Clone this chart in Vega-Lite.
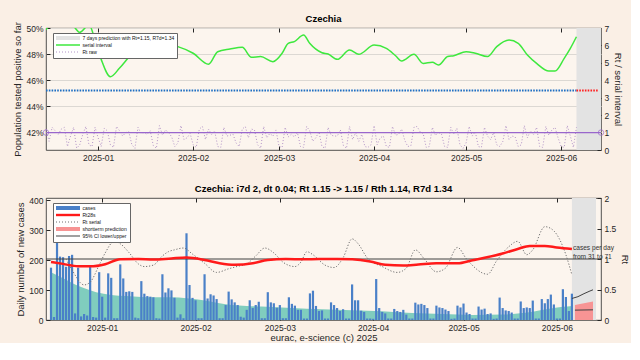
{
  "$schema": "https://vega.github.io/schema/vega-lite/v6.json",
  "autosize": {"type": "pad"},
  "padding": {"left": 12, "top": 13, "right": 0, "bottom": 0},
  "background": "#faefe5",
  "spacing": 48,
  "bounds": "flush",
  "config": {
    "font": "Liberation Sans",
    "view": {"fill": "#fcf5ee", "stroke": "#262626", "strokeWidth": 0.8},
    "axis": {
      "labelFont": "Liberation Sans", "labelFontSize": 8.5, "labelColor": "#262626", "labelOverlap": false,
      "titleFont": "Liberation Sans", "titleFontSize": 9.5, "titleFontWeight": "normal", "titleColor": "#262626",
      "domain": false, "tickColor": "#262626", "tickSize": -4, "labelPadding": 7, "grid": false
    },
    "title": {"font": "Liberation Sans", "fontSize": 9.5, "fontWeight": "bold", "color": "#000000"},
    "legend": {
      "fillColor": "#ffffff", "strokeColor": "#666666", "padding": 2.5,
      "labelFont": "Liberation Sans", "labelFontSize": 5, "labelColor": "#111111",
      "symbolType": "M-2,0H22", "symbolSize": 4, "symbolStrokeWidth": 1, "symbolOpacity": 1,
      "labelOffset": 22, "rowPadding": 1, "labelLimit": 300
    }
  },
  "datasets": {
    "daily": [
      {"date":"2024-12-15","cases":175,"rt":1.2},{"date":"2024-12-16","cases":10,"rt":0.5},{"date":"2024-12-17","cases":374,"rt":1.3},{"date":"2024-12-18","cases":212,"rt":1.1},{"date":"2024-12-19","cases":210,"rt":0.9},{"date":"2024-12-20","cases":178,"rt":1.2},{"date":"2024-12-21","cases":214,"rt":1.3},{"date":"2024-12-22","cases":218,"rt":0.2},{"date":"2024-12-23","cases":22,"rt":0.8},{"date":"2024-12-24","cases":175,"rt":1.3},{"date":"2024-12-25","cases":12,"rt":0.1},{"date":"2024-12-26","cases":20,"rt":0.3},{"date":"2024-12-27","cases":15,"rt":0.9},{"date":"2024-12-28","cases":184,"rt":1.35},{"date":"2024-12-29","cases":10,"rt":0.3},{"date":"2024-12-30","cases":8,"rt":0.2},{"date":"2024-12-31","cases":160,"rt":1.3},
      {"date":"2025-01-01","cases":78,"rt":0.7},{"date":"2025-01-02","cases":8,"rt":0.2},{"date":"2025-01-03","cases":156,"rt":1.25},{"date":"2025-01-04","cases":141,"rt":1.1},{"date":"2025-01-05","cases":6,"rt":0.3},{"date":"2025-01-06","cases":6,"rt":0.15},{"date":"2025-01-07","cases":186,"rt":1.35},{"date":"2025-01-08","cases":139,"rt":1.1},{"date":"2025-01-09","cases":94,"rt":0.8},{"date":"2025-01-10","cases":96,"rt":1.0},{"date":"2025-01-11","cases":94,"rt":1.05},{"date":"2025-01-12","cases":8,"rt":0.3},{"date":"2025-01-13","cases":6,"rt":0.1},{"date":"2025-01-14","cases":130,"rt":1.3},{"date":"2025-01-15","cases":88,"rt":0.95},{"date":"2025-01-16","cases":80,"rt":1.0},{"date":"2025-01-17","cases":78,"rt":0.9},{"date":"2025-01-18","cases":76,"rt":1.1},{"date":"2025-01-19","cases":6,"rt":0.25},{"date":"2025-01-20","cases":5,"rt":0.1},{"date":"2025-01-21","cases":153,"rt":1.4},{"date":"2025-01-22","cases":92,"rt":0.85},{"date":"2025-01-23","cases":106,"rt":1.15},{"date":"2025-01-24","cases":99,"rt":1.0},{"date":"2025-01-25","cases":74,"rt":0.75},{"date":"2025-01-26","cases":8,"rt":0.2},{"date":"2025-01-27","cases":19,"rt":0.4},{"date":"2025-01-28","cases":6,"rt":1.4},{"date":"2025-01-29","cases":290,"rt":0.6},{"date":"2025-01-30","cases":117,"rt":0.7},{"date":"2025-01-31","cases":74,"rt":0.95},
      {"date":"2025-02-01","cases":66,"rt":0.3},{"date":"2025-02-02","cases":6,"rt":0.15},{"date":"2025-02-03","cases":6,"rt":1.2},{"date":"2025-02-04","cases":153,"rt":1.35},{"date":"2025-02-05","cases":72,"rt":0.6},{"date":"2025-02-06","cases":86,"rt":1.2},{"date":"2025-02-07","cases":82,"rt":0.9},{"date":"2025-02-08","cases":70,"rt":1.1},{"date":"2025-02-09","cases":6,"rt":0.2},{"date":"2025-02-10","cases":6,"rt":0.15},{"date":"2025-02-11","cases":50,"rt":1.3},{"date":"2025-02-12","cases":95,"rt":0.8},{"date":"2025-02-13","cases":69,"rt":0.85},{"date":"2025-02-14","cases":59,"rt":0.9},{"date":"2025-02-15","cases":50,"rt":0.4},{"date":"2025-02-16","cases":11,"rt":0.2},{"date":"2025-02-17","cases":8,"rt":1.2},{"date":"2025-02-18","cases":34,"rt":1.35},{"date":"2025-02-19","cases":66,"rt":0.7},{"date":"2025-02-20","cases":40,"rt":1.2},{"date":"2025-02-21","cases":50,"rt":1.15},{"date":"2025-02-22","cases":61,"rt":0.3},{"date":"2025-02-23","cases":6,"rt":0.1},{"date":"2025-02-24","cases":6,"rt":1.35},{"date":"2025-02-25","cases":93,"rt":0.7},{"date":"2025-02-26","cases":59,"rt":0.95},{"date":"2025-02-27","cases":56,"rt":0.8},{"date":"2025-02-28","cases":41,"rt":1.15},
      {"date":"2025-03-01","cases":50,"rt":0.2},{"date":"2025-03-02","cases":6,"rt":0.15},{"date":"2025-03-03","cases":6,"rt":1.3},{"date":"2025-03-04","cases":76,"rt":0.75},{"date":"2025-03-05","cases":54,"rt":0.9},{"date":"2025-03-06","cases":48,"rt":0.75},{"date":"2025-03-07","cases":34,"rt":1.0},{"date":"2025-03-08","cases":34,"rt":0.2},{"date":"2025-03-09","cases":5,"rt":0.15},{"date":"2025-03-10","cases":5,"rt":1.35},{"date":"2025-03-11","cases":89,"rt":1.1},{"date":"2025-03-12","cases":98,"rt":0.5},{"date":"2025-03-13","cases":47,"rt":0.7},{"date":"2025-03-14","cases":30,"rt":1.05},{"date":"2025-03-15","cases":32,"rt":0.2},{"date":"2025-03-16","cases":5,"rt":0.1},{"date":"2025-03-17","cases":5,"rt":1.3},{"date":"2025-03-18","cases":59,"rt":0.85},{"date":"2025-03-19","cases":50,"rt":0.8},{"date":"2025-03-20","cases":40,"rt":0.8},{"date":"2025-03-21","cases":30,"rt":1.15},{"date":"2025-03-22","cases":36,"rt":0.25},{"date":"2025-03-23","cases":5,"rt":0.1},{"date":"2025-03-24","cases":5,"rt":1.35},{"date":"2025-03-25","cases":119,"rt":0.6},{"date":"2025-03-26","cases":66,"rt":1.0},{"date":"2025-03-27","cases":66,"rt":0.5},{"date":"2025-03-28","cases":31,"rt":0.9},{"date":"2025-03-29","cases":27,"rt":0.2},{"date":"2025-03-30","cases":5,"rt":0.15},{"date":"2025-03-31","cases":5,"rt":0.3},
      {"date":"2025-04-01","cases":4,"rt":1.4},{"date":"2025-04-02","cases":137,"rt":0.3},{"date":"2025-04-03","cases":40,"rt":0.7},{"date":"2025-04-04","cases":27,"rt":0.8},{"date":"2025-04-05","cases":22,"rt":0.2},{"date":"2025-04-06","cases":5,"rt":0.15},{"date":"2025-04-07","cases":5,"rt":1.35},{"date":"2025-04-08","cases":37,"rt":0.85},{"date":"2025-04-09","cases":30,"rt":0.9},{"date":"2025-04-10","cases":27,"rt":1.2},{"date":"2025-04-11","cases":34,"rt":0.55},{"date":"2025-04-12","cases":18,"rt":0.2},{"date":"2025-04-13","cases":5,"rt":0.25},{"date":"2025-04-14","cases":5,"rt":1.3},{"date":"2025-04-15","cases":58,"rt":1.35},{"date":"2025-04-16","cases":52,"rt":1.05},{"date":"2025-04-17","cases":54,"rt":0.95},{"date":"2025-04-18","cases":50,"rt":0.15},{"date":"2025-04-19","cases":40,"rt":0.2},{"date":"2025-04-20","cases":5,"rt":1.3},{"date":"2025-04-21","cases":5,"rt":0.85},{"date":"2025-04-22","cases":48,"rt":1.0},{"date":"2025-04-23","cases":42,"rt":0.9},{"date":"2025-04-24","cases":40,"rt":0.2},{"date":"2025-04-25","cases":35,"rt":0.15},{"date":"2025-04-26","cases":30,"rt":1.3},{"date":"2025-04-27","cases":4,"rt":0.9},{"date":"2025-04-28","cases":5,"rt":1.25},{"date":"2025-04-29","cases":48,"rt":0.3},{"date":"2025-04-30","cases":42,"rt":0.1},
      {"date":"2025-05-01","cases":55,"rt":0.4},{"date":"2025-05-02","cases":25,"rt":1.35},{"date":"2025-05-03","cases":20,"rt":0.8},{"date":"2025-05-04","cases":5,"rt":1.05},{"date":"2025-05-05","cases":5,"rt":0.2},{"date":"2025-05-06","cases":45,"rt":0.15},{"date":"2025-05-07","cases":35,"rt":1.3},{"date":"2025-05-08","cases":38,"rt":0.8},{"date":"2025-05-09","cases":20,"rt":0.6},{"date":"2025-05-10","cases":22,"rt":1.0},{"date":"2025-05-11","cases":4,"rt":0.3},{"date":"2025-05-12","cases":5,"rt":0.2},{"date":"2025-05-13","cases":75,"rt":0.5},{"date":"2025-05-14","cases":40,"rt":1.4},{"date":"2025-05-15","cases":32,"rt":0.6},{"date":"2025-05-16","cases":30,"rt":0.8},{"date":"2025-05-17","cases":25,"rt":0.75},{"date":"2025-05-18","cases":5,"rt":0.2},{"date":"2025-05-19","cases":5,"rt":0.3},{"date":"2025-05-20","cases":62,"rt":1.4},{"date":"2025-05-21","cases":40,"rt":0.7},{"date":"2025-05-22","cases":42,"rt":1.1},{"date":"2025-05-23","cases":40,"rt":0.9},{"date":"2025-05-24","cases":65,"rt":1.3},{"date":"2025-05-25","cases":5,"rt":0.2},{"date":"2025-05-26","cases":5,"rt":0.15},{"date":"2025-05-27","cases":70,"rt":1.35},{"date":"2025-05-28","cases":56,"rt":0.85},{"date":"2025-05-29","cases":70,"rt":1.15},{"date":"2025-05-30","cases":85,"rt":1.3},{"date":"2025-05-31","cases":52,"rt":0.7},
      {"date":"2025-06-01","cases":5,"rt":0.2},{"date":"2025-06-02","cases":5,"rt":0.15},{"date":"2025-06-03","cases":103,"rt":1.4},{"date":"2025-06-04","cases":77,"rt":0.8},{"date":"2025-06-05","cases":30,"rt":0.15},{"date":"2025-06-06","cases":88,"rt":1.3}
    ]
  },
  "resolve": {"scale": {"color": "independent"}},
  "vconcat": [
    {
      "title": {"text": "Czechia", "offset": -2},
      "width": 555, "height": 122,
      "resolve": {"scale": {"y": "independent"}, "axis": {"x": "independent"}},
      "layer": [
        {
          "layer": [
            {
              "data": {"values": [{"start": "2025-06-06", "end": "2025-06-14", "series": "7 days prediction with Rt=1.15, R7d=1.34"}]},
              "mark": {"type": "rect"},
              "encoding": {
                "x": {"field": "start", "type": "temporal",
                  "scale": {"type": "utc", "domain": [{"year": 2024, "month": 12, "date": 15, "utc": true}, {"year": 2025, "month": 6, "date": 14, "utc": true}]},
                  "axis": {"orient": "bottom", "title": null, "labelExpr": "utcFormat(datum.value, '%Y-%m')", "tickCount": 30,
                    "values": [{"year": 2025, "month": 1, "date": 1, "utc": true}, {"year": 2025, "month": 2, "date": 1, "utc": true}, {"year": 2025, "month": 3, "date": 1, "utc": true}, {"year": 2025, "month": 4, "date": 1, "utc": true}, {"year": 2025, "month": 5, "date": 1, "utc": true}, {"year": 2025, "month": 6, "date": 1, "utc": true}]}},
                "x2": {"field": "end"},
                "color": {"field": "series", "type": "nominal",
                  "scale": {"domain": ["7 days prediction with Rt=1.15, R7d=1.34", "serial interval", "Rt raw"], "range": ["#e3e3e3", "#3ee83e", "#b394c8"]},
                  "legend": {"title": null, "orient": "none", "legendX": 7, "legendY": 5,
                    "encode": {"symbols": {"update": {
                      "shape": {"signal": "datum.value == 'Rt raw' ? 'M-2,0H22' : datum.value == 'serial interval' ? 'M-2,-0.75H22V0.75H-2Z' : 'M-2,-2H22V2H-2Z'"},
                      "fill": {"signal": "datum.value == 'Rt raw' ? 'transparent' : datum.value == 'serial interval' ? '#3ee83e' : '#e3e3e3'"},
                      "stroke": {"signal": "datum.value == 'Rt raw' ? '#a98bbf' : 'transparent'"},
                      "strokeWidth": {"signal": "datum.value == 'Rt raw' ? 1 : 0"},
                      "strokeDash": {"signal": "datum.value == 'Rt raw' ? [1, 2] : [1, 0]"},
                      "strokeJoin": {"value": "bevel"},
                      "opacity": {"value": 1}, "fillOpacity": {"value": 1}, "strokeOpacity": {"value": 1}
                    }}}}}
              }
            },
            {
              "data": {"values": [{"date": "2024-12-15", "pct": 45.2}, {"date": "2025-06-06", "pct": 45.2}]},
              "mark": {"type": "line", "color": "#1f6fc2", "strokeWidth": 2, "strokeDash": [1.6, 1.2]},
              "encoding": {
                "x": {"field": "date", "type": "temporal"},
                "y": {"field": "pct", "type": "quantitative", "scale": {"domain": [40.62, 50], "nice": false, "zero": false},
                  "axis": {"orient": "left", "values": [42, 44, 46, 48, 50], "tickCount": 20, "labelExpr": "datum.value + '%'", "grid": true, "gridColor": "#dcd8d3", "title": "Population tested positive so far", "titlePadding": 3}}
              }
            },
            {
              "data": {"values": [{"date": "2025-06-06", "pct": 45.2}, {"date": "2025-06-13", "pct": 45.2}]},
              "mark": {"type": "line", "color": "#ff2020", "strokeWidth": 2, "strokeDash": [1.6, 1.2]},
              "encoding": {
                "x": {"field": "date", "type": "temporal"},
                "y": {"field": "pct", "type": "quantitative"}
              }
            }
          ]
        },
        {
          "layer": [
            {
              "data": {"name": "daily"},
              "mark": {"type": "line", "strokeWidth": 1, "strokeDash": [1, 2]},
              "encoding": {
                "x": {"field": "date", "type": "temporal",
                  "axis": {"orient": "top", "title": null, "labels": false, "tickCount": 30,
                    "values": [{"year": 2025, "month": 1, "date": 1, "utc": true}, {"year": 2025, "month": 2, "date": 1, "utc": true}, {"year": 2025, "month": 3, "date": 1, "utc": true}, {"year": 2025, "month": 4, "date": 1, "utc": true}, {"year": 2025, "month": 5, "date": 1, "utc": true}, {"year": 2025, "month": 6, "date": 1, "utc": true}]}},
                "y": {"field": "rt", "type": "quantitative", "scale": {"domain": [0, 7], "nice": false},
                  "axis": {"orient": "right", "values": [0, 1, 2, 3, 4, 5, 6, 7], "tickCount": 20, "labelExpr": "datum.value", "title": "Rt / serial interval", "titlePadding": 4}},
                "color": {"datum": "Rt raw", "type": "nominal"}
              }
            },
            {
              "data": {"values": [{"v": 1}]},
              "mark": {"type": "rule", "color": "#9966cc", "strokeWidth": 1.2},
              "encoding": {"y": {"field": "v", "type": "quantitative"}}
            },
            {
              "data": {"values": [{"date": "2024-12-15", "v": 1}, {"date": "2025-06-14", "v": 1}]},
              "mark": {"type": "point", "shape": "circle", "filled": false, "color": "#9966cc", "size": 30, "strokeWidth": 1},
              "encoding": {"x": {"field": "date", "type": "temporal"}, "y": {"field": "v", "type": "quantitative"}}
            },
            {
              "data": {"values": [
                {"date":"2024-12-15","si":6.9},{"date":"2024-12-17","si":7.3},{"date":"2024-12-20","si":7.5},{"date":"2024-12-24","si":7.1},{"date":"2024-12-26","si":6.75},{"date":"2024-12-28","si":7.05},{"date":"2024-12-29","si":7.2},{"date":"2024-12-31","si":6.3},{"date":"2025-01-02","si":5.2},{"date":"2025-01-05","si":4.2},{"date":"2025-01-08","si":4.7},{"date":"2025-01-12","si":5.5},{"date":"2025-01-16","si":5.9},{"date":"2025-01-21","si":6.1},{"date":"2025-01-27","si":5.93},
                {"date":"2025-02-01","si":5.55},{"date":"2025-02-06","si":4.92},{"date":"2025-02-09","si":5.64},{"date":"2025-02-13","si":5.79},{"date":"2025-02-17","si":5.89},{"date":"2025-02-20","si":5.32},{"date":"2025-02-23","si":5.36},{"date":"2025-02-27","si":5.07},
                {"date":"2025-03-02","si":5.55},{"date":"2025-03-04","si":6.12},{"date":"2025-03-06","si":6.22},{"date":"2025-03-09","si":6.6},{"date":"2025-03-11","si":6.12},{"date":"2025-03-15","si":5.58},{"date":"2025-03-17","si":5.51},{"date":"2025-03-20","si":5.2},{"date":"2025-03-24","si":5.74},{"date":"2025-03-27","si":5.49},
                {"date":"2025-04-01","si":6.02},{"date":"2025-04-05","si":5.83},{"date":"2025-04-08","si":5.41},{"date":"2025-04-10","si":5.11},{"date":"2025-04-14","si":5.49},{"date":"2025-04-17","si":4.97},{"date":"2025-04-20","si":5.03},{"date":"2025-04-22","si":4.88},{"date":"2025-04-25","si":5.36},{"date":"2025-04-27","si":5.41},
                {"date":"2025-05-01","si":5.64},{"date":"2025-05-04","si":5.55},{"date":"2025-05-08","si":5.36},{"date":"2025-05-11","si":5.93},{"date":"2025-05-15","si":6.31},{"date":"2025-05-18","si":6.12},{"date":"2025-05-21","si":5.45},{"date":"2025-05-24","si":4.97},{"date":"2025-05-28","si":4.53},{"date":"2025-05-30","si":4.53},
                {"date":"2025-06-02","si":5.26},{"date":"2025-06-04","si":5.83},{"date":"2025-06-06","si":6.5}
              ]},
              "mark": {"type": "line", "interpolate": "monotone", "clip": true, "strokeWidth": 1.5},
              "encoding": {
                "x": {"field": "date", "type": "temporal"},
                "y": {"field": "si", "type": "quantitative"},
                "color": {"datum": "serial interval", "type": "nominal"}
              }
            }
          ]
        }
      ]
    },
    {
      "title": {"text": "Czechia: i7d 2, dt 0.04; Rt 1.15 -> 1.15 / Rth 1.14, R7d 1.34", "offset": 1},
      "width": 555, "height": 122,
      "resolve": {"scale": {"y": "independent"}, "axis": {"x": "independent"}},
      "layer": [
        {
          "layer": [
            {
              "data": {"values": [{"start": "2025-06-06", "end": "2025-06-14"}]},
              "mark": {"type": "rect", "color": "#e3e3e3"},
              "encoding": {
                "x": {"field": "start", "type": "temporal",
                  "scale": {"type": "utc", "domain": [{"year": 2024, "month": 12, "date": 15, "utc": true}, {"year": 2025, "month": 6, "date": 14, "utc": true}]},
                  "axis": {"orient": "bottom", "title": "eurac, e-science (c) 2025", "titlePadding": 1, "labelExpr": "utcFormat(datum.value, '%Y-%m')", "tickCount": 30,
                    "values": [{"year": 2025, "month": 1, "date": 1, "utc": true}, {"year": 2025, "month": 2, "date": 1, "utc": true}, {"year": 2025, "month": 3, "date": 1, "utc": true}, {"year": 2025, "month": 4, "date": 1, "utc": true}, {"year": 2025, "month": 5, "date": 1, "utc": true}, {"year": 2025, "month": 6, "date": 1, "utc": true}]}},
                "x2": {"field": "end"}
              }
            },
            {
              "data": {"values": [
                {"date":"2024-12-15","sm":160},{"date":"2024-12-20","sm":135},{"date":"2024-12-25","sm":110},{"date":"2024-12-30","sm":93},{"date":"2025-01-04","sm":84},{"date":"2025-01-09","sm":80},{"date":"2025-01-14","sm":77},{"date":"2025-01-19","sm":76},{"date":"2025-01-24","sm":76},{"date":"2025-01-29","sm":73},{"date":"2025-02-03","sm":67},{"date":"2025-02-08","sm":58},{"date":"2025-02-13","sm":50},{"date":"2025-02-18","sm":47},{"date":"2025-02-23","sm":45},{"date":"2025-03-05","sm":40},{"date":"2025-03-15","sm":36},{"date":"2025-03-25","sm":33},{"date":"2025-04-04","sm":29},{"date":"2025-04-14","sm":23},{"date":"2025-04-24","sm":20},{"date":"2025-05-04","sm":17},{"date":"2025-05-14","sm":18},{"date":"2025-05-19","sm":22},{"date":"2025-05-24","sm":28},{"date":"2025-05-29","sm":37},{"date":"2025-06-03","sm":44},{"date":"2025-06-06","sm":47}
              ]},
              "mark": {"type": "area", "color": "#80cdbe", "opacity": 1, "interpolate": "monotone"},
              "encoding": {
                "x": {"field": "date", "type": "temporal"},
                "y": {"field": "sm", "type": "quantitative", "scale": {"domain": [0, 408], "nice": false},
                  "axis": {"orient": "left", "values": [0, 100, 200, 300, 400], "tickCount": 20, "labelExpr": "datum.value", "title": "Daily number of new cases", "titlePadding": 3}}
              }
            },
            {
              "data": {"name": "daily"},
              "mark": {"type": "bar", "size": 2.2},
              "encoding": {
                "x": {"field": "date", "type": "temporal"},
                "y": {"field": "cases", "type": "quantitative"},
                "color": {"datum": "cases", "type": "nominal",
                  "scale": {"domain": ["cases", "Rt28s", "Rt serial", "shortterm prediction", "95% CI lower/upper"], "range": ["#4a80c8", "#ff1a1a", "#707070", "#f79494", "#404040"]},
                  "legend": {"title": null, "orient": "none", "legendX": 7, "legendY": 5,
                    "encode": {"symbols": {"update": {
                      "shape": {"signal": "datum.value == 'cases' || datum.value == 'shortterm prediction' ? 'M-2,-2H22V2H-2Z' : datum.value == 'Rt28s' ? 'M-2,-1.2H22V1.2H-2Z' : datum.value == '95% CI lower/upper' ? 'M-2,-0.5H22V0.5H-2Z' : 'M-2,0H22'"},
                      "fill": {"signal": "datum.value == 'cases' ? '#4a80c8' : datum.value == 'shortterm prediction' ? '#f79494' : datum.value == 'Rt28s' ? '#ff1a1a' : datum.value == '95% CI lower/upper' ? '#404040' : 'transparent'"},
                      "stroke": {"signal": "datum.value == 'Rt serial' ? '#707070' : 'transparent'"},
                      "strokeWidth": {"signal": "datum.value == 'Rt serial' ? 1 : 0"},
                      "strokeDash": {"signal": "datum.value == 'Rt serial' ? [1, 2] : [1, 0]"},
                      "strokeJoin": {"value": "bevel"},
                      "opacity": {"value": 1}, "fillOpacity": {"value": 1}, "strokeOpacity": {"value": 1}
                    }}}}}
              }
            },
            {
              "data": {"values": [{"date": "2025-06-07", "up": 50}, {"date": "2025-06-10", "up": 56}, {"date": "2025-06-13", "up": 62}]},
              "mark": {"type": "area", "opacity": 1},
              "encoding": {
                "x": {"field": "date", "type": "temporal"},
                "y": {"field": "up", "type": "quantitative"},
                "color": {"datum": "shortterm prediction", "type": "nominal"}
              }
            },
            {
              "data": {"values": [
                {"date": "2025-06-06", "v": 72, "b": "upper"}, {"date": "2025-06-08", "v": 78, "b": "upper"}, {"date": "2025-06-10", "v": 88, "b": "upper"}, {"date": "2025-06-12", "v": 97, "b": "upper"}, {"date": "2025-06-13", "v": 101, "b": "upper"},
                {"date": "2025-06-07", "v": 33, "b": "lower"}, {"date": "2025-06-13", "v": 34, "b": "lower"}
              ]},
              "mark": {"type": "line", "strokeWidth": 1},
              "encoding": {
                "x": {"field": "date", "type": "temporal"},
                "y": {"field": "v", "type": "quantitative"},
                "detail": {"field": "b"},
                "color": {"datum": "95% CI lower/upper", "type": "nominal"}
              }
            },
            {
              "data": {"values": [{"date": "2025-06-06", "v": 240, "t": "cases per day"}, {"date": "2025-06-06", "v": 210, "t": "from 31 to 71"}]},
              "mark": {"type": "text", "align": "left", "baseline": "middle", "fontSize": 6.6, "color": "#333333", "dx": 1},
              "encoding": {
                "x": {"field": "date", "type": "temporal"},
                "y": {"field": "v", "type": "quantitative"},
                "text": {"field": "t"}
              }
            }
          ]
        },
        {
          "layer": [
            {
              "data": {"values": [{"v": 1}]},
              "mark": {"type": "rule", "color": "#404040", "strokeWidth": 1},
              "encoding": {
                "y": {"field": "v", "type": "quantitative", "scale": {"domain": [0, 2], "nice": false},
                  "axis": {"orient": "right", "values": [0, 0.5, 1, 1.5, 2], "tickCount": 20, "labelExpr": "datum.value", "title": "Rt", "titlePadding": 4}}
              }
            },
            {
              "data": {"values": [
                {"date":"2024-12-20","r":1.0},{"date":"2024-12-22","r":0.82},{"date":"2024-12-26","r":0.575},{"date":"2024-12-28","r":0.62},{"date":"2024-12-31","r":0.9},{"date":"2025-01-02","r":1.1},{"date":"2025-01-05","r":1.29},{"date":"2025-01-07","r":1.25},{"date":"2025-01-10","r":1.1},{"date":"2025-01-13","r":0.92},{"date":"2025-01-15","r":0.876},{"date":"2025-01-18","r":0.9},{"date":"2025-01-21","r":1.05},{"date":"2025-01-23","r":1.12},{"date":"2025-01-25","r":1.15},{"date":"2025-01-28","r":1.18},{"date":"2025-01-31","r":1.08},
                {"date":"2025-02-04","r":0.93},{"date":"2025-02-08","r":0.78},{"date":"2025-02-12","r":0.84},{"date":"2025-02-15","r":0.88},{"date":"2025-02-18","r":0.92},{"date":"2025-02-21","r":1.05},{"date":"2025-02-24","r":1.18},{"date":"2025-02-27","r":1.1},
                {"date":"2025-03-02","r":0.95},{"date":"2025-03-06","r":0.876},{"date":"2025-03-08","r":0.95},{"date":"2025-03-10","r":1.12},{"date":"2025-03-12","r":1.07},{"date":"2025-03-16","r":0.9},{"date":"2025-03-19","r":0.86},{"date":"2025-03-22","r":1.02},{"date":"2025-03-25","r":1.33},{"date":"2025-03-27","r":1.25},{"date":"2025-03-30","r":1.02},
                {"date":"2025-04-04","r":0.876},{"date":"2025-04-09","r":0.78},{"date":"2025-04-12","r":0.85},{"date":"2025-04-15","r":1.15},{"date":"2025-04-18","r":1.0},{"date":"2025-04-22","r":0.79},{"date":"2025-04-25","r":0.85},{"date":"2025-04-29","r":1.19},
                {"date":"2025-05-02","r":1.0},{"date":"2025-05-09","r":0.75},{"date":"2025-05-12","r":0.97},{"date":"2025-05-16","r":1.2},{"date":"2025-05-19","r":1.29},{"date":"2025-05-22","r":1.07},{"date":"2025-05-24","r":1.15},{"date":"2025-05-28","r":1.53},{"date":"2025-05-30","r":1.5},
                {"date":"2025-06-01","r":1.4},{"date":"2025-06-04","r":1.07},{"date":"2025-06-06","r":0.74}
              ]},
              "mark": {"type": "line", "interpolate": "monotone", "strokeWidth": 1, "strokeDash": [1.2, 1.8]},
              "encoding": {
                "x": {"field": "date", "type": "temporal", "axis": {"orient": "top", "title": null, "labels": false, "tickCount": 30,
                  "values": [{"year": 2025, "month": 1, "date": 1, "utc": true}, {"year": 2025, "month": 2, "date": 1, "utc": true}, {"year": 2025, "month": 3, "date": 1, "utc": true}, {"year": 2025, "month": 4, "date": 1, "utc": true}, {"year": 2025, "month": 5, "date": 1, "utc": true}, {"year": 2025, "month": 6, "date": 1, "utc": true}]}},
                "y": {"field": "r", "type": "quantitative"},
                "color": {"datum": "Rt serial", "type": "nominal"}
              }
            },
            {
              "data": {"values": [
                {"date":"2024-12-15","r":0.95},{"date":"2024-12-19","r":0.92},{"date":"2024-12-24","r":0.88},{"date":"2024-12-28","r":0.88},{"date":"2025-01-02","r":0.915},{"date":"2025-01-07","r":0.997},{"date":"2025-01-13","r":1.0},{"date":"2025-01-18","r":0.99},{"date":"2025-01-24","r":1.01},{"date":"2025-01-29","r":1.025},
                {"date":"2025-02-04","r":0.985},{"date":"2025-02-09","r":0.93},{"date":"2025-02-14","r":0.905},{"date":"2025-02-20","r":0.93},{"date":"2025-02-25","r":0.985},
                {"date":"2025-03-03","r":1.0},{"date":"2025-03-09","r":0.995},{"date":"2025-03-14","r":1.0},{"date":"2025-03-20","r":1.0},{"date":"2025-03-25","r":0.995},{"date":"2025-03-31","r":0.96},
                {"date":"2025-04-05","r":0.905},{"date":"2025-04-11","r":0.893},{"date":"2025-04-16","r":0.91},{"date":"2025-04-22","r":0.93},{"date":"2025-04-29","r":0.93},
                {"date":"2025-05-04","r":0.98},{"date":"2025-05-08","r":1.02},{"date":"2025-05-14","r":1.09},{"date":"2025-05-19","r":1.165},{"date":"2025-05-23","r":1.215},{"date":"2025-05-28","r":1.215},
                {"date":"2025-06-01","r":1.19},{"date":"2025-06-06","r":1.165}
              ]},
              "mark": {"type": "line", "interpolate": "monotone", "strokeWidth": 2.5},
              "encoding": {
                "x": {"field": "date", "type": "temporal"},
                "y": {"field": "r", "type": "quantitative"},
                "color": {"datum": "Rt28s", "type": "nominal"}
              }
            }
          ]
        }
      ]
    }
  ]
}
